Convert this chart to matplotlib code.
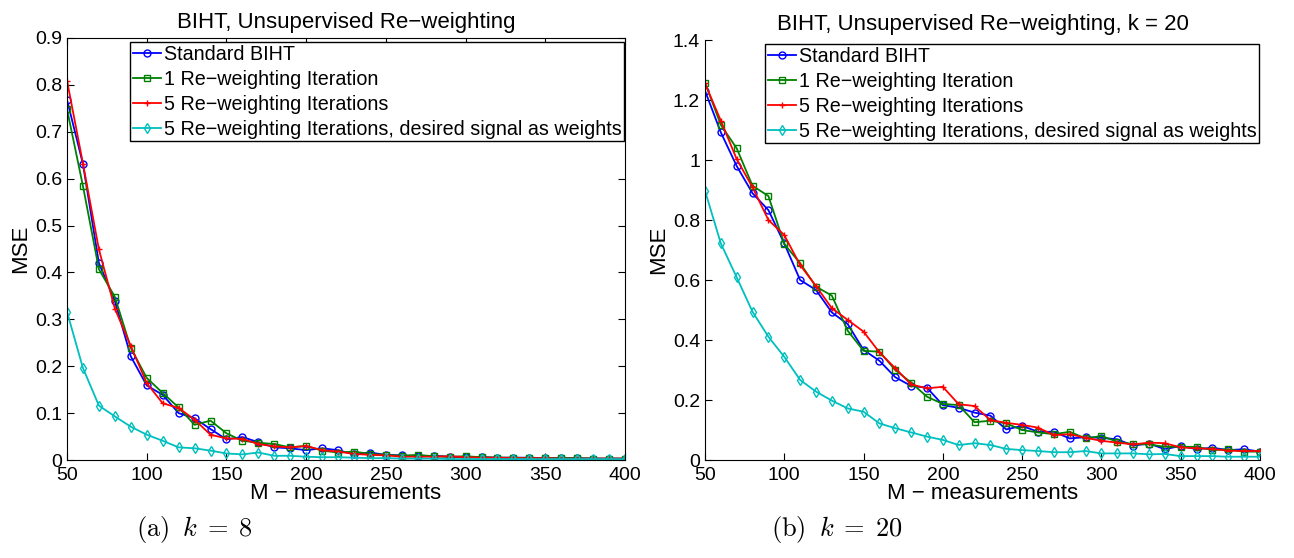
import matplotlib
matplotlib.use("Agg")
import matplotlib.pyplot as plt

plt.rcParams['font.family'] = ['Liberation Sans', 'DejaVu Sans']
plt.rcParams['mathtext.fontset'] = 'cm'

M = list(range(50, 401, 10))

# k = 8
k8_standard = [0.768, 0.631, 0.420, 0.339, 0.221, 0.159, 0.139, 0.100, 0.089, 0.066,
               0.044, 0.049, 0.038, 0.027, 0.025, 0.021, 0.025, 0.021, 0.012, 0.016,
               0.011, 0.010, 0.008, 0.009, 0.007, 0.006, 0.006, 0.005, 0.005, 0.005,
               0.004, 0.004, 0.004, 0.003, 0.003, 0.003]
k8_rw1 = [0.748, 0.584, 0.407, 0.348, 0.239, 0.175, 0.143, 0.112, 0.075, 0.084,
          0.057, 0.041, 0.037, 0.034, 0.027, 0.030, 0.020, 0.016, 0.018, 0.013,
          0.011, 0.009, 0.011, 0.008, 0.007, 0.008, 0.006, 0.005, 0.005, 0.004,
          0.004, 0.004, 0.004, 0.003, 0.003, 0.003]
k8_rw5 = [0.809, 0.632, 0.449, 0.323, 0.243, 0.164, 0.121, 0.111, 0.086, 0.054,
          0.046, 0.045, 0.034, 0.029, 0.027, 0.030, 0.021, 0.018, 0.013, 0.011,
          0.010, 0.007, 0.007, 0.007, 0.008, 0.006, 0.005, 0.005, 0.004, 0.004,
          0.004, 0.003, 0.003, 0.003, 0.003, 0.003]
k8_oracle = [0.316, 0.196, 0.116, 0.093, 0.071, 0.054, 0.041, 0.027, 0.025, 0.020,
             0.014, 0.012, 0.016, 0.009, 0.009, 0.007, 0.006, 0.006, 0.005, 0.004,
             0.004, 0.003, 0.003, 0.003, 0.002, 0.002, 0.002, 0.002, 0.002, 0.002,
             0.002, 0.002, 0.002, 0.002, 0.002, 0.002]

# k = 20
k20_standard = [1.231, 1.092, 0.980, 0.889, 0.833, 0.722, 0.600, 0.567, 0.492, 0.453,
                0.367, 0.331, 0.276, 0.247, 0.241, 0.183, 0.174, 0.158, 0.148, 0.102,
                0.114, 0.094, 0.094, 0.072, 0.076, 0.074, 0.069, 0.048, 0.055, 0.036,
                0.047, 0.036, 0.041, 0.033, 0.036, 0.028]
k20_rw1 = [1.258, 1.117, 1.039, 0.914, 0.880, 0.720, 0.656, 0.578, 0.548, 0.431,
           0.364, 0.361, 0.300, 0.258, 0.211, 0.187, 0.183, 0.126, 0.131, 0.122,
           0.100, 0.092, 0.086, 0.094, 0.072, 0.080, 0.061, 0.053, 0.052, 0.044,
           0.044, 0.044, 0.033, 0.036, 0.028, 0.028]
k20_rw5 = [1.256, 1.131, 1.003, 0.909, 0.800, 0.750, 0.650, 0.580, 0.506, 0.467,
           0.428, 0.359, 0.306, 0.252, 0.239, 0.244, 0.186, 0.180, 0.133, 0.124,
           0.117, 0.108, 0.083, 0.086, 0.074, 0.064, 0.058, 0.052, 0.058, 0.056,
           0.042, 0.039, 0.037, 0.031, 0.030, 0.030]
k20_oracle = [0.898, 0.722, 0.609, 0.494, 0.411, 0.344, 0.267, 0.228, 0.198, 0.172,
              0.161, 0.122, 0.106, 0.092, 0.078, 0.067, 0.050, 0.056, 0.050, 0.037,
              0.033, 0.030, 0.026, 0.026, 0.030, 0.022, 0.022, 0.022, 0.019, 0.020,
              0.013, 0.013, 0.013, 0.011, 0.011, 0.011]

labels = ["Standard BIHT", "1 Re\u2212weighting Iteration", "5 Re\u2212weighting Iterations",
          "5 Re\u2212weighting Iterations, desired signal as weights"]
titles = ["BIHT, Unsupervised Re\u2212weighting", "BIHT, Unsupervised Re\u2212weighting, k = 20"]
captions = [r"$\mathrm{(a)}\;\;k\;=\;8$", r"$\mathrm{(b)}\;\;k\;=\;20$"]
y_ticks = [[0, 0.1, 0.2, 0.3, 0.4, 0.5, 0.6, 0.7, 0.8, 0.9],
           [0, 0.2, 0.4, 0.6, 0.8, 1, 1.2, 1.4]]
x_ticks = [50, 100, 150, 200, 250, 300, 350, 400]

styles = [dict(color=(0, 0, 1), marker='o', mfc='none'),
          dict(color=(0, 0.5, 0), marker='s', mfc='none'),
          dict(color=(1, 0, 0), marker='+'),
          dict(color=(0, 0.75, 0.75), marker='d', mfc='none')]

fig = plt.figure(figsize=(12.94, 5.58), dpi=100)
axes = [fig.add_axes([0.0518, 0.1756, 0.4312, 0.7563]),
        fig.add_axes([0.5448, 0.1756, 0.4289, 0.7527])]

datasets = [[k8_standard, k8_rw1, k8_rw5, k8_oracle],
            [k20_standard, k20_rw1, k20_rw5, k20_oracle]]

for i, ax in enumerate(axes):
    for serie, st, lab in zip(datasets[i], styles, labels):
        ax.plot(M, serie, lw=1.3, ms=5, mew=1.0, label=lab, **st)
    ax.set_xlim(50, 400)
    ax.set_ylim(y_ticks[i][0], y_ticks[i][-1])
    ax.set_xticks(x_ticks)
    ax.set_yticks(y_ticks[i])
    ax.set_yticklabels(["%g" % v for v in y_ticks[i]])
    box = (i == 0)  # o da direita nao tem caixa
    ax.spines['top'].set_visible(box)
    ax.spines['right'].set_visible(box)
    ax.tick_params(direction='in', top=box, right=box, labelsize=14, length=5, width=0.8)
    ax.tick_params(axis='x', pad=5)
    ax.set_title(titles[i], fontsize=16, pad=7)
    ax.set_xlabel("M \u2212 measurements", fontsize=16, labelpad=-1)
    ax.set_ylabel("MSE", fontsize=16, labelpad=3)
    leg = ax.legend(loc='upper right', bbox_to_anchor=(0.998, 0.99), borderaxespad=0,
                    fontsize=14.2, fancybox=False, framealpha=1, edgecolor='black',
                    handlelength=1.4, handletextpad=0.15, labelspacing=0.3, borderpad=0.13)
    leg.get_frame().set_linewidth(1.0)

fig.text(0.105, 0.04, captions[0], fontsize=19)
fig.text(0.596, 0.04, captions[1], fontsize=19)

fig.savefig("out.png", dpi=100)
